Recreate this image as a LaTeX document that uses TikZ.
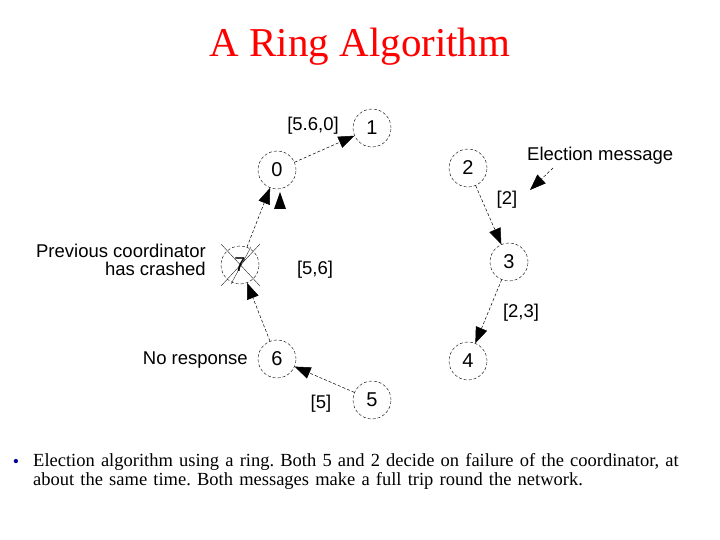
\documentclass[tikz,border=0pt]{standalone}
\usepackage{fontspec}
\setmainfont{Liberation Serif}
\newfontfamily\lsans{Liberation Sans}
\usetikzlibrary{arrows.meta}
\frenchspacing
\begin{document}
\begin{tikzpicture}[x=1pt,y=-1pt,
  ring/.style={circle,draw,densely dashed,line width=0.4pt,minimum size=38pt,inner sep=0pt,font=\lsans\fontsize{20}{20}\selectfont},
  msg/.style={densely dashed,line width=0.5pt,-{Triangle[length=16pt,width=12pt]}},
  lab/.style={font=\lsans\fontsize{18.5}{18.5}\selectfont,inner sep=1pt}]
\useasboundingbox (0,0) rectangle (720,540);
\node[text=red,font=\fontsize{41}{41}\selectfont] (title) at (360,47) {A Ring Algorithm};
\node[ring] (n1) at (372,128) {1};
\node[ring] (n0) at (277,170) {0};
\node[ring] (n2) at (468,168) {2};
\node[ring] (n3) at (509,262) {3};
\node[ring] (n7) at (240,265) {7};
\node[ring] (n6) at (277,359) {6};
\node[ring] (n4) at (468,361) {4};
\node[ring] (n5) at (372,400) {5};
\draw[msg] (n0) -- (n1);
\draw[msg] (n2) -- (n3);
\draw[msg] (n3) -- (n4);
\draw[msg] (n5) -- (n6);
\draw[msg] (n6) -- (n7);
\draw[msg] (n7) -- (n0);
\coordinate (a0s) at (280,209);
\fill (a0s) -- ++(-6,0) -- (280,192) -- (286,209) -- cycle;
\draw[line width=0.3pt] (221,244) -- (260,286) (221,286) -- (260,244) (231,284) -- (251,247);
\coordinate (em) at (553,168);
\coordinate (emt) at (530,190);
\draw[msg] (em) -- (emt);
\node[lab,anchor=south west] (emlab) at (526,166) {Election message};
\node[lab] (l560) at (313,126) {[5.6,0]};
\node[lab] (l2) at (507,200) {[2]};
\node[lab] (l56) at (315,270) {[5,6]};
\node[lab] (l23) at (521,313) {[2,3]};
\node[lab] (l5) at (321,404) {[5]};
\node[lab,anchor=east] (lnr) at (249,360) {No response};
\node[lab,anchor=east,align=right] (lpc) at (207,260) {Previous coordinator\\has crashed};
\node[anchor=north west,align=left,text width=690pt,font=\fontsize{18.5}{19.5}\selectfont,inner sep=0pt] (txt) at (33,453) {Election algorithm using a ring. Both 5 and 2 decide on failure of the coordinator, at\\about the same time. Both messages make a full trip round the network.};
\node[text=blue!60!black,font=\fontsize{18}{18}\selectfont] (bul) at (16,463) {•};
\end{tikzpicture}
\end{document}
